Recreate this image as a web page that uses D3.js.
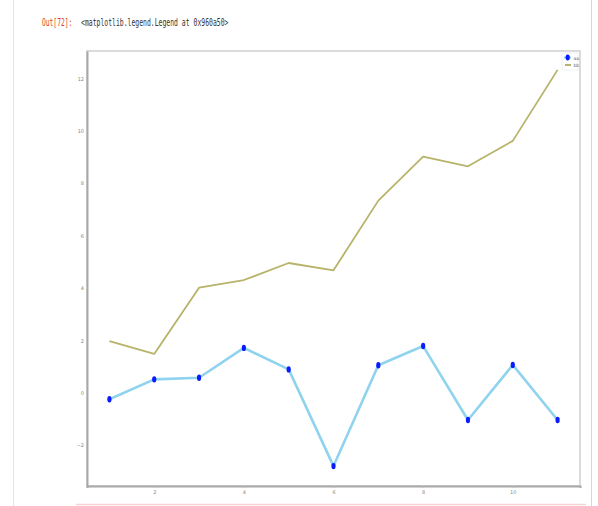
<!DOCTYPE html>
<html>
<head>
<meta charset="utf-8">
<script src="https://cdn.jsdelivr.net/npm/d3@7"></script>
<style>
  html, body { margin: 0; padding: 0; background: #fff; }
  svg { display: block; }
</style>
</head>
<body>
<svg id="chart" width="598" height="506"></svg>
<script>
// Series data
const xs = [1, 2, 3, 4, 5, 6, 7, 8, 9, 10, 11];
const seriesA = [-0.24, 0.52, 0.58, 1.72, 0.90, -2.79, 1.06, 1.79, -1.03, 1.07, -1.03];
const seriesB = [1.98, 1.49, 4.02, 4.31, 4.96, 4.68, 7.34, 9.02, 8.65, 9.62, 12.33];
const legendLabels = ["aa", "bb"];
const xTicks = [2, 4, 6, 8, 10];
const yTicks = [-2, 0, 2, 4, 6, 8, 10, 12];

const svg = d3.select("#chart");

// notebook cell chrome
svg.append("line").attr("x1", 13.5).attr("x2", 13.5).attr("y1", 0).attr("y2", 506)
  .attr("stroke", "#e4e4e4").attr("stroke-width", 1);
svg.append("line").attr("x1", 591.5).attr("x2", 591.5).attr("y1", 0).attr("y2", 506)
  .attr("stroke", "#d6d6d6").attr("stroke-width", 1);
svg.append("line").attr("x1", 76).attr("x2", 586).attr("y1", 504.5).attr("y2", 504.5)
  .attr("stroke", "#f6d4d4").attr("stroke-width", 1.5);

// condensed monospace prompt line
svg.append("text").attr("transform", "translate(42,26) scale(0.63,1)")
  .attr("font-family", "DejaVu Sans Mono").attr("font-size", 10)
  .attr("fill", "#d84315")
  .text("Out[72]:");
svg.append("text").attr("transform", "translate(81,26) scale(0.645,1)")
  .attr("font-family", "DejaVu Sans Mono").attr("font-size", 10)
  .attr("fill", "#333")
  .text("<matplotlib.legend.Legend at 0x960a50>");

// plot area
const plotLeft = 87, plotRight = 580, plotTop = 51, plotBottom = 486;
const x = d3.scaleLinear().domain([0.5, 11.5]).range([plotLeft, plotRight]);
const y = d3.scaleLinear().domain([-3.55, 13.05]).range([plotBottom, plotTop]);

svg.append("rect").attr("x", plotLeft).attr("y", plotTop)
  .attr("width", plotRight - plotLeft).attr("height", plotBottom - plotTop)
  .attr("fill", "#fff").attr("stroke", "#cfcfcf").attr("stroke-width", 1.5);

// axes
const xAxis = d3.axisBottom(x).tickValues(xTicks).tickSize(2).tickPadding(2)
  .tickFormat(d3.format("d"));
const gx = svg.append("g").attr("transform", `translate(0,${plotBottom})`).call(xAxis);
const yAxis = d3.axisLeft(y).tickValues(yTicks).tickSize(0).tickPadding(3)
  .tickFormat(d3.format("d"));
const gy = svg.append("g").attr("transform", `translate(${plotLeft},0)`).call(yAxis);
[gx, gy].forEach(g => {
  g.select(".domain").attr("stroke", "#a8a8a8").attr("stroke-width", 2);
  g.selectAll(".tick line").attr("stroke", "#bbb");
  g.selectAll(".tick text").attr("fill", "#888").attr("font-size", 5)
    .attr("font-family", "DejaVu Sans");
});

// lines
const pts = (vals) => xs.map((d, i) => [d, vals[i]]);
const line = d3.line().x(d => x(d[0])).y(d => y(d[1]));

svg.append("path").datum(pts(seriesB)).attr("d", line)
  .attr("fill", "none").attr("stroke", "#b7b36a").attr("stroke-width", 1.8)
  .attr("stroke-linejoin", "round");

svg.append("path").datum(pts(seriesA)).attr("d", line)
  .attr("fill", "none").attr("stroke", "#8fd3ee").attr("stroke-width", 2.6)
  .attr("stroke-linejoin", "round");

svg.selectAll("ellipse.pt").data(pts(seriesA)).enter().append("ellipse")
  .attr("class", "pt")
  .attr("cx", d => x(d[0])).attr("cy", d => y(d[1]))
  .attr("rx", 2.1).attr("ry", 3.2)
  .attr("fill", "#0a1cff");

// legend
const lg = svg.append("g");
lg.append("rect").attr("x", 562).attr("y", 53).attr("width", 16).attr("height", 17)
  .attr("fill", "#fff").attr("stroke", "#eee").attr("stroke-width", 0.8);
lg.append("line").attr("x1", 564).attr("x2", 571).attr("y1", 57.5).attr("y2", 57.5)
  .attr("stroke", "#8fd3ee").attr("stroke-width", 2);
lg.append("ellipse").attr("cx", 567.7).attr("cy", 57.5).attr("rx", 2.1).attr("ry", 3)
  .attr("fill", "#0a1cff");
lg.append("line").attr("x1", 565).attr("x2", 571).attr("y1", 65).attr("y2", 65)
  .attr("stroke", "#b7b36a").attr("stroke-width", 2);
legendLabels.forEach((t, i) => {
  lg.append("text").attr("x", 573.5).attr("y", 59.5 + i * 7.5)
    .attr("font-size", 4.5).attr("font-family", "DejaVu Sans").attr("fill", "#666")
    .text(t);
});
</script>
</body>
</html>
